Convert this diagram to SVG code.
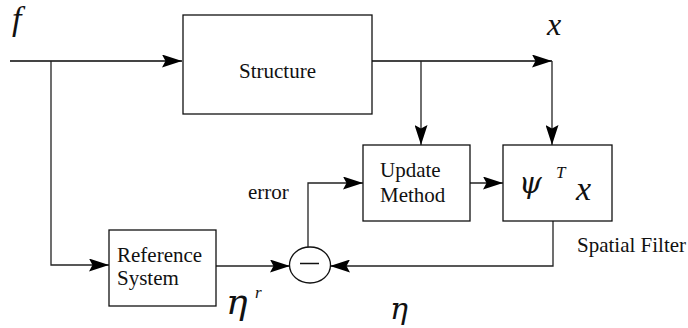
<svg xmlns="http://www.w3.org/2000/svg" width="688" height="328" viewBox="0 0 688 328">
  <style>
    .box { fill: #fff; stroke: #111; stroke-width: 1.3; }
    .lbl { font-family: "Liberation Serif", "Times New Roman", serif; font-size: 21px; fill: #111; }
    .math { font-family: "Liberation Serif", "Times New Roman", serif; font-style: italic; fill: #111; }
    .greek { font-family: "DejaVu Serif", "Liberation Serif", serif; font-style: italic; fill: #111; }
    .wire { fill: none; stroke: #222; stroke-width: 1.3; }
    .bus { fill: none; stroke: #444; stroke-width: 2; }
  </style>
  <defs>
    <marker id="arrow" markerUnits="userSpaceOnUse" markerWidth="20" markerHeight="13" viewBox="0 0 20 13" refX="20" refY="6.5" orient="auto">
      <path d="M0,0 L20,6.5 L0,13 L3.5,6.5 z" fill="#000"/>
    </marker>
  </defs>

  <!-- signal labels -->
  <text class="math" x="12" y="30" font-size="34">f</text>
  <text class="math" x="547" y="35" font-size="32">x</text>
  <text class="lbl" x="248" y="199">error</text>
  <text class="lbl" x="577" y="252">Spatial Filter</text>
  <text class="greek" x="226" y="314" font-size="36">η</text>
  <text class="math" x="255" y="298" font-size="17">r</text>
  <text class="greek" x="390" y="319" font-size="30">η</text>

  <!-- connectors -->
  <g id="connectors">
    <path class="bus" d="M10,61 H182" marker-end="url(#arrow)"/>
    <path class="wire" d="M51,61 V265 H109" marker-end="url(#arrow)"/>
    <path class="bus" d="M372,61 H552" marker-end="url(#arrow)"/>
    <path class="wire" d="M552,61 V145" marker-end="url(#arrow)"/>
    <path class="wire" d="M421,61 V145" marker-end="url(#arrow)"/>
    <path class="wire" d="M470,183 H503" marker-end="url(#arrow)"/>
    <path class="wire" d="M216,266 H290" marker-end="url(#arrow)"/>
    <path class="wire" d="M308,247 V183 H363" marker-end="url(#arrow)"/>
    <path class="wire" d="M553,221 V266 H330" marker-end="url(#arrow)"/>
  </g>

  <g id="structure">
    <rect class="box" x="183" y="15" width="189" height="99"/>
    <text class="lbl" x="277.5" y="78" text-anchor="middle">Structure</text>
  </g>

  <g id="update-method">
    <rect class="box" x="363" y="145" width="107" height="76"/>
    <text class="lbl" x="380" y="177">Update</text>
    <text class="lbl" x="380" y="202">Method</text>
  </g>

  <g id="spatial-filter">
    <rect class="box" x="503" y="145" width="109" height="76"/>
    <text class="greek" x="519" y="193" font-size="29">ψ</text>
    <text class="math" x="556" y="178" font-size="17">T</text>
    <text class="math" x="576" y="200" font-size="34">x</text>
  </g>

  <g id="reference-system">
    <rect class="box" x="109" y="230" width="107" height="76"/>
    <text class="lbl" x="117" y="262">Reference</text>
    <text class="lbl" x="117" y="285">System</text>
  </g>

  <g id="difference">
    <ellipse class="box" cx="310" cy="265" rx="20.5" ry="18"/>
    <line x1="300" y1="263.5" x2="319" y2="263.5" stroke="#111" stroke-width="1.5"/>
  </g>
</svg>
